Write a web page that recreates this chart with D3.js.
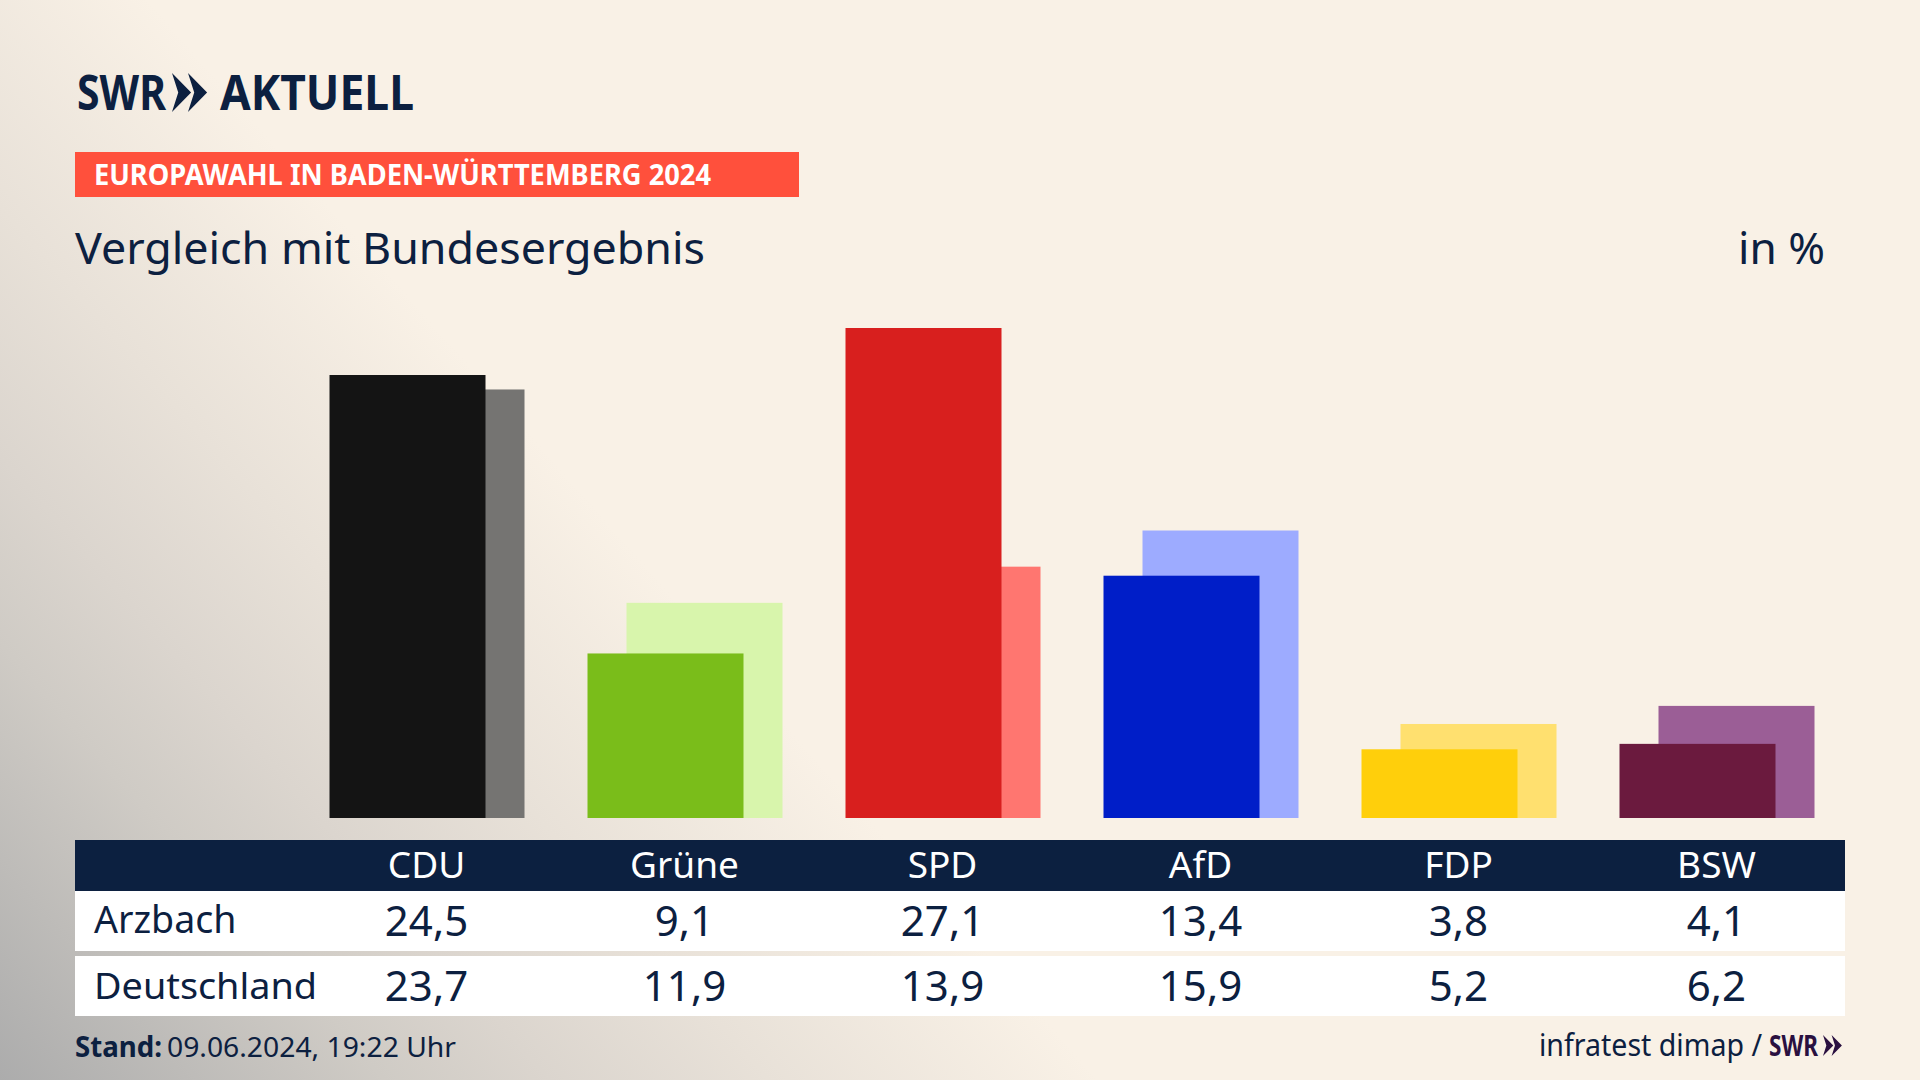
<!DOCTYPE html>
<html>
<head>
<meta charset="utf-8">
<script src="https://cdn.jsdelivr.net/npm/d3@7"></script>
<style>
  html, body { margin: 0; padding: 0; background: #f9f1e6; overflow: hidden; }
  text { font-family: "Noto Sans", sans-serif; }
</style>
</head>
<body>
<div id="draw"></div>
<script>
var parties = ['CDU', 'Grüne', 'SPD', 'AfD', 'FDP', 'BSW'];
var arzbach = [24.5, 9.1, 27.1, 13.4, 3.8, 4.1];
var deutschland = [23.7, 11.9, 13.9, 15.9, 5.2, 6.2];
var rowNames = ['Arzbach', 'Deutschland'];

var frontColors = ['#141414', '#7abd1a', '#d81f1e', '#001ec8', '#ffcf0b', '#6b1a3e'];
var backColors = ['#757472', '#d8f5ac', '#ff7670', '#9dabff', '#ffe06f', '#9b5e96'];

var navy = '#0c2040';
var fmt = function(v) { return v.toFixed(1).replace('.', ','); };

var svg = d3.select('#draw').append('svg').attr('width', 1920).attr('height', 1080);

// background, grey running in diagonally from the bottom left corner
var grad = svg.append('defs').append('linearGradient')
  .attr('id', 'bg').attr('gradientUnits', 'userSpaceOnUse')
  .attr('x1', 0).attr('y1', 1080).attr('x2', 619).attr('y2', 535);
grad.append('stop').attr('offset', 0).attr('stop-color', '#acacac');
grad.append('stop').attr('offset', 0.35).attr('stop-color', '#cfcbc5');
grad.append('stop').attr('offset', 0.5).attr('stop-color', '#dbd5ce');
grad.append('stop').attr('offset', 0.7).attr('stop-color', '#e8e1d8');
grad.append('stop').attr('offset', 1).attr('stop-color', '#f9f1e6');
svg.append('rect').attr('width', 1920).attr('height', 1080).attr('fill', 'url(#bg)');

var x = d3.scaleBand().domain(parties).range([298, 1846]);
var y = d3.scaleLinear().domain([0, 27.1]).range([818, 328]);
var barW = 156;
var barOff = 39;

function label(txt, px, py, size, opts) {
  opts = opts || {};
  var t = svg.append('text')
    .attr('x', px).attr('y', py)
    .attr('font-size', size)
    .attr('font-weight', opts.weight || 400)
    .attr('fill', opts.fill || navy)
    .attr('text-anchor', opts.anchor || 'start')
    .text(txt);
  if (opts.len) t.attr('textLength', opts.len).attr('lengthAdjust', 'spacingAndGlyphs');
  return t;
}

function chevrons(px, py, h, fill) {
  // two arrow heads of the SWR logo
  var w = h * 0.49;
  var gap = h * 0.41;
  [0, gap].forEach(function(dx) {
    svg.append('path')
      .attr('d', 'M' + (px + dx) + ',' + py + 'L' + (px + dx + w) + ',' + (py + h / 2) +
        'L' + (px + dx) + ',' + (py + h) + 'L' + (px + dx + h * 0.16) + ',' + (py + h / 2) + 'Z')
      .attr('fill', fill);
  });
}

// logo
label('SWR', 77, 110, 49, {weight: 700, len: 89});
chevrons(172, 73, 39, navy);
label('AKTUELL', 220, 110, 49, {weight: 700, len: 194});

// red tag
svg.append('rect').attr('x', 75).attr('y', 152).attr('width', 724).attr('height', 45).attr('fill', '#ff503c');
label('EUROPAWAHL IN BADEN-WÜRTTEMBERG 2024', 94, 185, 28, {weight: 700, fill: '#ffffff', len: 617});

label('Vergleich mit Bundesergebnis', 75, 264, 44, {len: 630});
label('in %', 1825, 264, 44, {anchor: 'end', len: 87});

// bars, national result behind
svg.selectAll('.back').data(deutschland).enter().append('rect')
  .attr('class', 'back')
  .attr('x', function(d, i) { return x(parties[i]) + x.bandwidth() / 2 - (barW + barOff) / 2 + barOff; })
  .attr('y', function(d) { return y(d); })
  .attr('width', barW)
  .attr('height', function(d) { return y(0) - y(d); })
  .attr('fill', function(d, i) { return backColors[i]; });

svg.selectAll('.front').data(arzbach).enter().append('rect')
  .attr('class', 'front')
  .attr('x', function(d, i) { return x(parties[i]) + x.bandwidth() / 2 - (barW + barOff) / 2; })
  .attr('y', function(d) { return y(d); })
  .attr('width', barW)
  .attr('height', function(d) { return y(0) - y(d); })
  .attr('fill', function(d, i) { return frontColors[i]; });

// table
svg.append('rect').attr('x', 75).attr('y', 840).attr('width', 1770).attr('height', 51).attr('fill', navy);
svg.append('rect').attr('x', 75).attr('y', 891).attr('width', 1770).attr('height', 60).attr('fill', '#ffffff');
svg.append('rect').attr('x', 75).attr('y', 956).attr('width', 1770).attr('height', 60).attr('fill', '#ffffff');

var cx = function(p) { return x(p) + x.bandwidth() / 2 - 0.5; };
parties.forEach(function(p, i) {
  label(p, cx(p), 878, 37, {fill: '#ffffff', anchor: 'middle'});
  label(fmt(arzbach[i]), cx(p), 936, 42, {anchor: 'middle'});
  label(fmt(deutschland[i]), cx(p), 1001, 42, {anchor: 'middle'});
});
label(rowNames[0], 94, 933, 37.5);
label(rowNames[1], 94, 999, 37, {len: 223});

// footer
label('Stand:', 75, 1057, 28, {weight: 700, len: 87});
label('09.06.2024, 19:22 Uhr', 167, 1057, 28, {len: 289});
label('infratest dimap /', 1539, 1056, 30, {len: 223});
label('SWR', 1769, 1056, 29, {weight: 700, fill: '#2a1040', len: 49});
chevrons(1823, 1035, 21, '#2a1040');
</script>
</body>
</html>
